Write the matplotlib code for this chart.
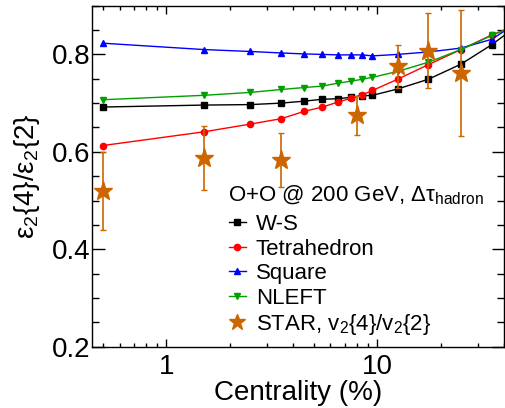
import numpy as np
import matplotlib

matplotlib.use('Agg')
import matplotlib.pyplot as plt
from matplotlib.lines import Line2D
from matplotlib.ticker import LogLocator, NullFormatter, MultipleLocator

plt.rcParams['font.family'] = ['Liberation Sans', 'DejaVu Sans']
plt.rcParams['mathtext.fontset'] = 'custom'
plt.rcParams['mathtext.rm'] = 'Liberation Sans'
plt.rcParams['mathtext.it'] = 'Liberation Sans:italic'

# centrality bins (%)
cent = [0.5, 1.5, 2.5, 3.5, 4.5, 5.5, 6.5, 7.5, 8.5, 9.5, 12.5, 17.5, 25, 35, 45]

ws = [0.692, 0.696, 0.697, 0.700, 0.704, 0.708, 0.709, 0.712, 0.715, 0.716,
      0.729, 0.749, 0.780, 0.820, 0.855]
tetra = [0.613, 0.641, 0.657, 0.668, 0.683, 0.692, 0.702, 0.710, 0.717, 0.726,
         0.749, 0.779, 0.810, 0.840, 0.858]
square = [0.823, 0.810, 0.806, 0.803, 0.801, 0.800, 0.799, 0.799, 0.799, 0.797,
          0.800, 0.805, 0.813, 0.831, 0.862]
nleft = [0.707, 0.716, 0.722, 0.728, 0.732, 0.735, 0.741, 0.745, 0.749, 0.753,
         0.765, 0.784, 0.810, 0.839, 0.858]

# STAR v2{4}/v2{2}
star_x = [0.5, 1.5, 3.5, 8.0, 12.5, 17.5, 25]
star_y = [0.520, 0.588, 0.583, 0.675, 0.776, 0.808, 0.762]
star_err = [0.080, 0.066, 0.055, 0.040, 0.044, 0.077, 0.130]

star_col = '#cc6600'

fig = plt.figure(figsize=(5.05, 4.08), dpi=100)
ax = fig.add_axes([92 / 505, 1 - 346.7 / 408, 412 / 505, 341 / 408])

h1, = ax.plot(cent, ws, '-s', color='black', lw=1, ms=5, label='W-S')
h2, = ax.plot(cent, tetra, '-o', color='#ff0000', lw=1, ms=4.5, label='Tetrahedron')
h3, = ax.plot(cent, square, '-^', color='#0000ff', lw=1, ms=4.5, label='Square')
h4, = ax.plot(cent, nleft, '-v', color='#00a000', lw=1, ms=4.5, label='NLEFT')
ax.errorbar(star_x, star_y, yerr=star_err, fmt='*', color=star_col, ms=14,
            elinewidth=1.2, capsize=2, capthick=1)
h5 = Line2D([], [], ls='none', marker='*', color=star_col, ms=12)

ax.set_xscale('log')
ax.set_xlim(0.443, 40)
ax.set_ylim(0.2, 0.9)

ax.set_xticks([1, 10], labels=['1', '10'])
ax.xaxis.set_minor_locator(LogLocator(base=10, subs=np.arange(2, 10)))
ax.xaxis.set_minor_formatter(NullFormatter())
ax.yaxis.set_minor_locator(MultipleLocator(0.05))
ax.set_yticks([0.2, 0.4, 0.6, 0.8], labels=['0.2', '0.4', '0.6', '0.8'])

ax.tick_params(axis='both', which='both', direction='in', top=True, right=True,
               labelsize=20, width=1)
ax.tick_params(axis='y', which='major', length=9, pad=1)
ax.tick_params(axis='y', which='minor', length=4.8)
ax.tick_params(axis='x', which='major', length=6, pad=5)
ax.tick_params(axis='x', which='minor', length=3)
for s in ax.spines.values():
    s.set_linewidth(1)

ax.set_xlabel('Centrality (%)', fontsize=20, labelpad=0)
ax.set_ylabel('ε$_2${4}/ε$_2${2}', fontsize=20, labelpad=7)

fig.text(228 / 505, 1 - 195 / 408, 'O+O @ 200 GeV, Δτ$_{\\rm hadron}$',
         fontsize=16, ha='left', va='center')

ax.legend([h1, h2, h3, h4, h5],
          ['W-S', 'Tetrahedron', 'Square', 'NLEFT', 'STAR, v$_2${4}/v$_2${2}'],
          loc='upper left', bbox_to_anchor=(229 / 505, 1 - 214 / 408),
          bbox_transform=fig.transFigure, frameon=False, fontsize=16,
          handlelength=0.75, handletextpad=0.45, labelspacing=0.16,
          borderpad=0, borderaxespad=0)

fig.savefig('out.png', dpi=100)
